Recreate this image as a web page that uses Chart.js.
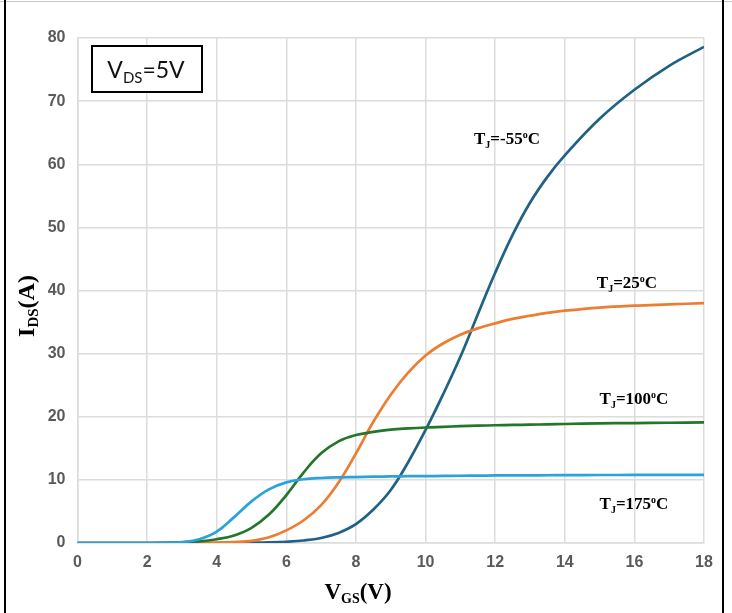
<!DOCTYPE html>
<html>
<head>
<meta charset="utf-8">
<script src="https://cdn.jsdelivr.net/npm/chart.js@4/dist/chart.umd.min.js"></script>
<style>
  html, body { margin: 0; padding: 0; background: #fff; }
  #wrap { width: 732px; height: 613px; }
</style>
</head>
<body>
<div id="wrap"><canvas id="chart" width="732" height="613"></canvas></div>
<script>
// values
var vgs   = [0, 1, 2, 2.5, 3, 3.5, 4, 4.5, 5, 5.5, 6, 6.5, 7, 7.5, 8, 8.5, 9, 9.5, 10, 10.5, 11, 11.5, 12, 12.5, 13, 13.5, 14, 15, 16, 17, 18];
var tjM55 = [0, 0, 0, 0, 0, 0, 0, 0.02, 0.05, 0.1, 0.2, 0.4, 0.8, 1.6, 3.0, 5.3, 8.4, 12.8, 17.9, 23.5, 29.5, 36.2, 42.8, 48.8, 53.9, 58, 61.4, 67.2, 71.8, 75.6, 78.6];
var tj25  = [0, 0, 0, 0, 0, 0.02, 0.05, 0.15, 0.35, 0.9, 2.0, 3.6, 6.0, 9.6, 14.2, 19.2, 23.5, 27, 29.7, 31.6, 33, 34, 34.8, 35.5, 36, 36.45, 36.8, 37.3, 37.6, 37.8, 38];
var tj100 = [0, 0, 0, 0.02, 0.1, 0.25, 0.6, 1.2, 2.4, 4.5, 7.6, 11.2, 14.2, 16.1, 17.1, 17.6, 17.95, 18.15, 18.3, 18.4, 18.5, 18.58, 18.65, 18.7, 18.75, 18.8, 18.85, 18.95, 19, 19.05, 19.1];
var tj175 = [0, 0, 0, 0.03, 0.15, 0.6, 1.8, 4.1, 6.6, 8.5, 9.6, 10.1, 10.3, 10.4, 10.45, 10.5, 10.55, 10.58, 10.6, 10.62, 10.65, 10.67, 10.7, 10.7, 10.72, 10.73, 10.75, 10.77, 10.78, 10.8, 10.8];
var seriesNames  = ['TJ=-55°C', 'TJ=25°C', 'TJ=100°C', 'TJ=175°C'];
var seriesColors = ['#1f6284', '#ed7d31', '#23762a', '#2aa3dc'];
var xTicks = [0, 2, 4, 6, 8, 10, 12, 14, 16, 18];
var yTicks = [0, 10, 20, 30, 40, 50, 60, 70, 80];

function pairs(ys) {
    return vgs.map((x, i) => ({x: x, y: ys[i]}));
}

// draws runs of text, each with its own font and vertical shift, centred on x
function drawRuns(ctx, runs, x, y) {
    let total = 0;
    runs.forEach((r) => { ctx.font = r[1]; total += ctx.measureText(r[0]).width; });
    let cx = x - total / 2;
    ctx.textAlign = 'left';
    ctx.textBaseline = 'alphabetic';
    runs.forEach((r) => {
        ctx.font = r[1];
        ctx.fillText(r[0], cx, y + (r[2] || 0));
        cx += ctx.measureText(r[0]).width;
    });
}

var serif = '"Liberation Serif", "Times New Roman", serif';

function tjLabel(ctx, temp, x, y) {
    drawRuns(ctx, [
        ['T', 'bold 17px ' + serif],
        ['J', 'bold 10px ' + serif, 4],
        ['=' + temp, 'bold 17px ' + serif],
        ['o', 'bold 10px ' + serif, -6],
        ['C', 'bold 17px ' + serif]
    ], x, y);
}

var decorations = {
    id: 'decorations',
    beforeDraw(chart) {
        let ctx = chart.ctx;
        ctx.save();
        ctx.fillStyle = '#fff';
        ctx.fillRect(0, 0, chart.width, chart.height);
        ctx.strokeStyle = '#c8c8c8';
        ctx.lineWidth = 1;
        ctx.beginPath();
        ctx.moveTo(0, 1.5); ctx.lineTo(chart.width, 1.5);
        ctx.stroke();
        ctx.strokeStyle = '#000';
        ctx.lineWidth = 2;
        ctx.beginPath();
        ctx.moveTo(5, 0); ctx.lineTo(5, chart.height);
        ctx.moveTo(723, 0); ctx.lineTo(723, chart.height);
        ctx.stroke();
        ctx.restore();
    },
    afterDraw(chart) {
        let ctx = chart.ctx;
        ctx.save();

        // V_DS box
        ctx.fillStyle = '#fff';
        ctx.fillRect(92, 46, 110, 46);
        ctx.strokeStyle = '#000';
        ctx.lineWidth = 2;
        ctx.strokeRect(92, 46, 110, 46);
        ctx.fillStyle = '#111';
        drawRuns(ctx, [
            ['V', '23px Lato, "Open Sans", sans-serif'],
            ['DS', '15px Lato, "Open Sans", sans-serif', 5],
            ['=5V', '23px Lato, "Open Sans", sans-serif']
        ], 146, 78);

        // curve labels
        ctx.fillStyle = '#000';
        tjLabel(ctx, '-55', 507, 144);
        tjLabel(ctx, '25', 627, 288);
        tjLabel(ctx, '100', 634, 404);
        tjLabel(ctx, '175', 634, 509);

        // axis titles
        ctx.save();
        ctx.translate(34, 306);
        ctx.rotate(-Math.PI / 2);
        drawRuns(ctx, [
            ['I', 'bold 24px ' + serif],
            ['DS', 'bold 15px ' + serif, 4],
            ['(A)', 'bold 24px ' + serif]
        ], 0, 0);
        ctx.restore();
        drawRuns(ctx, [
            ['V', 'bold 23px ' + serif],
            ['GS', 'bold 14px ' + serif, 4],
            ['(V)', 'bold 23px ' + serif]
        ], 358, 599);
        ctx.restore();
    }
};

var datasets = [tjM55, tj25, tj100, tj175].map((ys, i) => ({
    label: seriesNames[i],
    data: pairs(ys),
    borderColor: seriesColors[i],
    backgroundColor: seriesColors[i],
    borderWidth: 2.7,
    pointRadius: 0,
    tension: 0.4,
    fill: false
}));
// cyan drawn last, as in the picture
datasets.reverse();

var tickFont = {family: 'Arial, "Liberation Sans", sans-serif', size: 16, weight: 'bold'};

const chart = new Chart(document.getElementById('chart'), {
    type: 'line',
    data: {datasets: datasets},
    plugins: [decorations],
    options: {
        responsive: false,
        animation: false,
        layout: {padding: {top: 38, right: 28, left: 0, bottom: 0}},
        plugins: {legend: {display: false}, tooltip: {enabled: false}},
        scales: {
            x: {
                type: 'linear',
                min: 0, max: 18,
                afterBuildTicks: (s) => { s.ticks = xTicks.map((v) => ({value: v})); },
                afterFit: (s) => { s.height = 70; },
                grid: {color: '#dcdcdc', lineWidth: 1.5, drawTicks: false},
                border: {color: '#dcdcdc', width: 1.5},
                ticks: {color: '#5a5a5a', font: tickFont, padding: 10}
            },
            y: {
                min: 0, max: 80,
                afterBuildTicks: (s) => { s.ticks = yTicks.map((v) => ({value: v})); },
                afterFit: (s) => { s.width = 77.5; },
                grid: {color: '#dcdcdc', lineWidth: 1.5, drawTicks: false},
                border: {color: '#dcdcdc', width: 1.5},
                ticks: {color: '#5a5a5a', font: tickFont, padding: 12}
            }
        }
    }
});
</script>
</body>
</html>
